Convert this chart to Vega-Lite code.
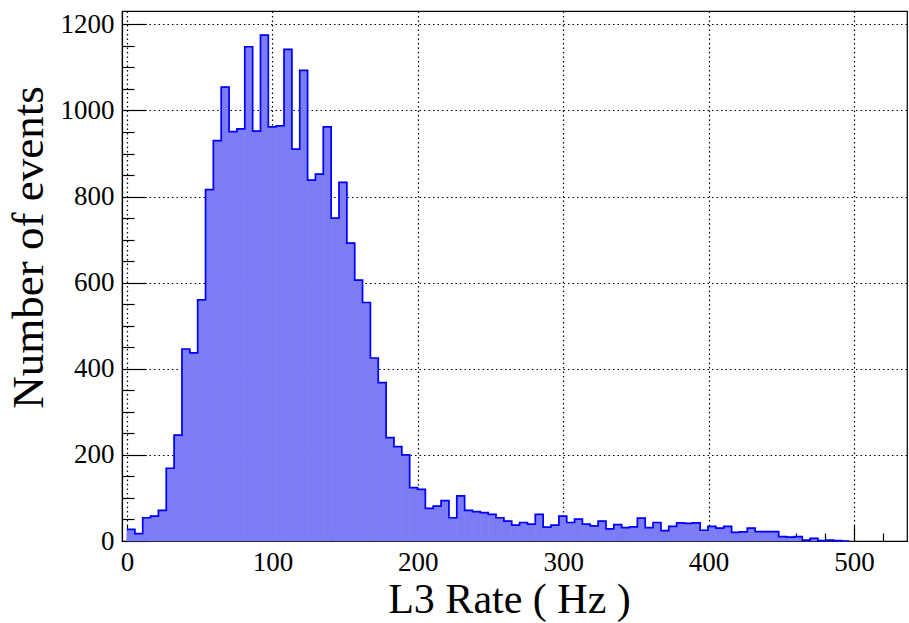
{
  "$schema": "https://vega.github.io/schema/vega-lite/v6.json",
  "width": 785,
  "height": 530,
  "autosize": {"type": "none"},
  "padding": {"left": 122, "top": 11, "right": 2, "bottom": 82},
  "background": "white",
  "config": {
    "view": {"stroke": "black", "strokeWidth": 1.2},
    "font": "Liberation Serif"
  },
  "data": {
    "values": [
      {"start": 0, "end": 5.4, "count": 27},
      {"start": 5.4, "end": 10.8, "count": 17},
      {"start": 10.8, "end": 16.2, "count": 54},
      {"start": 16.2, "end": 21.6, "count": 58},
      {"start": 21.6, "end": 27, "count": 71},
      {"start": 27, "end": 32.4, "count": 169},
      {"start": 32.4, "end": 37.8, "count": 246},
      {"start": 37.8, "end": 43.2, "count": 446},
      {"start": 43.2, "end": 48.6, "count": 437},
      {"start": 48.6, "end": 54, "count": 560},
      {"start": 54, "end": 59.4, "count": 816},
      {"start": 59.4, "end": 64.8, "count": 930},
      {"start": 64.8, "end": 70.2, "count": 1054},
      {"start": 70.2, "end": 75.6, "count": 951},
      {"start": 75.6, "end": 81, "count": 957},
      {"start": 81, "end": 86.4, "count": 1148},
      {"start": 86.4, "end": 91.8, "count": 952},
      {"start": 91.8, "end": 97.2, "count": 1175},
      {"start": 97.2, "end": 102.6, "count": 962},
      {"start": 102.6, "end": 108, "count": 964},
      {"start": 108, "end": 113.4, "count": 1142},
      {"start": 113.4, "end": 118.8, "count": 910},
      {"start": 118.8, "end": 124.2, "count": 1093},
      {"start": 124.2, "end": 129.6, "count": 838},
      {"start": 129.6, "end": 135, "count": 852},
      {"start": 135, "end": 140.4, "count": 962},
      {"start": 140.4, "end": 145.8, "count": 750},
      {"start": 145.8, "end": 151.2, "count": 833},
      {"start": 151.2, "end": 156.6, "count": 692},
      {"start": 156.6, "end": 162, "count": 606},
      {"start": 162, "end": 167.4, "count": 554},
      {"start": 167.4, "end": 172.8, "count": 425},
      {"start": 172.8, "end": 178.2, "count": 368},
      {"start": 178.2, "end": 183.6, "count": 240},
      {"start": 183.6, "end": 189, "count": 219},
      {"start": 189, "end": 194.4, "count": 200},
      {"start": 194.4, "end": 199.8, "count": 124},
      {"start": 199.8, "end": 205.2, "count": 120},
      {"start": 205.2, "end": 210.6, "count": 76},
      {"start": 210.6, "end": 216, "count": 81},
      {"start": 216, "end": 221.4, "count": 94},
      {"start": 221.4, "end": 226.8, "count": 54},
      {"start": 226.8, "end": 232.2, "count": 105},
      {"start": 232.2, "end": 237.6, "count": 71},
      {"start": 237.6, "end": 243, "count": 68},
      {"start": 243, "end": 248.4, "count": 66},
      {"start": 248.4, "end": 253.8, "count": 62},
      {"start": 253.8, "end": 259.2, "count": 54},
      {"start": 259.2, "end": 264.6, "count": 46},
      {"start": 264.6, "end": 270, "count": 37},
      {"start": 270, "end": 275.4, "count": 43},
      {"start": 275.4, "end": 280.8, "count": 39},
      {"start": 280.8, "end": 286.2, "count": 62},
      {"start": 286.2, "end": 291.6, "count": 32},
      {"start": 291.6, "end": 297, "count": 37},
      {"start": 297, "end": 302.4, "count": 58},
      {"start": 302.4, "end": 307.8, "count": 43},
      {"start": 307.8, "end": 313.2, "count": 51},
      {"start": 313.2, "end": 318.6, "count": 39},
      {"start": 318.6, "end": 324, "count": 35},
      {"start": 324, "end": 329.4, "count": 46},
      {"start": 329.4, "end": 334.8, "count": 28},
      {"start": 334.8, "end": 340.2, "count": 38},
      {"start": 340.2, "end": 345.6, "count": 31},
      {"start": 345.6, "end": 351, "count": 33},
      {"start": 351, "end": 356.4, "count": 53},
      {"start": 356.4, "end": 361.8, "count": 31},
      {"start": 361.8, "end": 367.2, "count": 43},
      {"start": 367.2, "end": 372.6, "count": 24},
      {"start": 372.6, "end": 378, "count": 34},
      {"start": 378, "end": 383.4, "count": 42},
      {"start": 383.4, "end": 388.8, "count": 41},
      {"start": 388.8, "end": 394.2, "count": 42},
      {"start": 394.2, "end": 399.6, "count": 25},
      {"start": 399.6, "end": 405, "count": 34},
      {"start": 405, "end": 410.4, "count": 30},
      {"start": 410.4, "end": 415.8, "count": 34},
      {"start": 415.8, "end": 421.2, "count": 20},
      {"start": 421.2, "end": 426.6, "count": 21},
      {"start": 426.6, "end": 432, "count": 30},
      {"start": 432, "end": 437.4, "count": 22},
      {"start": 437.4, "end": 442.8, "count": 22},
      {"start": 442.8, "end": 448.2, "count": 22},
      {"start": 448.2, "end": 453.6, "count": 10},
      {"start": 453.6, "end": 459, "count": 9},
      {"start": 459, "end": 464.4, "count": 10},
      {"start": 464.4, "end": 469.8, "count": 2},
      {"start": 469.8, "end": 475.2, "count": 6},
      {"start": 475.2, "end": 480.6, "count": 1},
      {"start": 480.6, "end": 486, "count": 2},
      {"start": 486, "end": 491.4, "count": 1},
      {"start": 491.4, "end": 496.8, "count": 0}
    ]
  },
  "resolve": {"axis": {"x": "independent", "y": "independent"}},
  "layer": [
    {
      "mark": {"type": "bar", "color": "#7c7cf4", "stroke": "#7c7cf4", "strokeWidth": 0.6, "opacity": 1, "orient": "vertical"},
      "encoding": {
        "x": {
          "field": "start",
          "type": "quantitative",
          "scale": {"domain": [0, 533], "nice": false, "zero": false},
          "axis": {
            "orient": "bottom",
            "values": [0, 100, 200, 300, 400, 500],
            "grid": true,
            "gridColor": "black",
            "gridDash": [1.5, 3],
            "gridWidth": 1.2,
            "tickSize": -16,
            "tickColor": "black",
            "tickWidth": 1.2,
            "domainColor": "black",
            "domainWidth": 1.2,
            "labelFont": "Liberation Serif",
            "labelFontSize": 27,
            "labelColor": "black",
            "labelPadding": 24,
            "labelFlush": false,
            "labelOverlap": false,
            "title": "L3 Rate ( Hz )",
            "titleFont": "Liberation Serif",
            "titleFontSize": 42,
            "titleFontWeight": "normal",
            "titleColor": "black",
            "titlePadding": 4,
            "titleX": 387
          }
        },
        "x2": {"field": "end"},
        "y": {
          "field": "count",
          "type": "quantitative",
          "scale": {"domain": [0, 1231], "nice": false},
          "axis": {
            "orient": "left",
            "values": [0, 200, 400, 600, 800, 1000, 1200],
            "format": "d",
            "grid": true,
            "gridColor": "black",
            "gridDash": [1.5, 3],
            "gridWidth": 1.2,
            "tickSize": -24,
            "tickColor": "black",
            "tickWidth": 1.2,
            "domainColor": "black",
            "domainWidth": 1.2,
            "labelFont": "Liberation Serif",
            "labelFontSize": 27,
            "labelColor": "black",
            "labelPadding": 32,
            "labelFlush": false,
            "labelOverlap": false,
            "title": "Number of events",
            "titleFont": "Liberation Serif",
            "titleFontSize": 45,
            "titleFontWeight": "normal",
            "titleColor": "black",
            "titlePadding": 9,
            "titleY": 236
          }
        },
        "y2": {"datum": 0}
      }
    },
    {
      "transform": [{"fold": ["start", "end"], "as": ["key", "edge"]}],
      "mark": {"type": "line", "color": "#0000ff", "strokeWidth": 1.7},
      "encoding": {
        "x": {
          "field": "edge",
          "type": "quantitative",
          "axis": {
            "orient": "bottom",
            "values": [20, 40, 60, 80, 120, 140, 160, 180, 220, 240, 260, 280, 320, 340, 360, 380, 420, 440, 460, 480, 520],
            "labels": false,
            "domain": false,
            "grid": false,
            "title": null,
            "tickSize": -8,
            "tickColor": "black",
            "tickWidth": 1.2
          }
        },
        "y": {
          "field": "count",
          "type": "quantitative",
          "axis": {
            "orient": "left",
            "values": [50, 100, 150, 250, 300, 350, 450, 500, 550, 650, 700, 750, 850, 900, 950, 1050, 1100, 1150],
            "labels": false,
            "domain": false,
            "grid": false,
            "title": null,
            "tickSize": -12,
            "tickColor": "black",
            "tickWidth": 1.2
          }
        },
        "order": [{"field": "edge", "type": "quantitative"}, {"field": "key", "type": "nominal"}]
      }
    }
  ]
}
